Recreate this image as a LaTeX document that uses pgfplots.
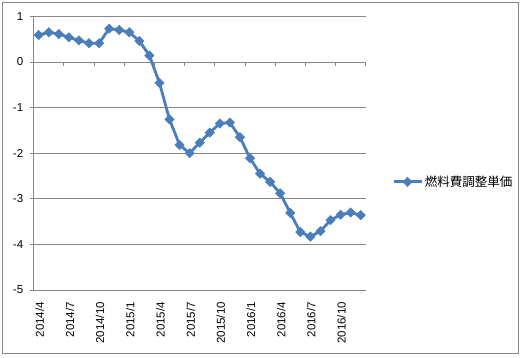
\documentclass[border=0pt]{standalone}
\usepackage{pgfplots}
\pgfplotsset{compat=1.18}
\usepackage{fontspec}
\setmainfont{Liberation Sans}
\newfontfamily\cjk{Noto Sans CJK JP}
\definecolor{ser}{HTML}{4A7EBB}
\definecolor{grd}{HTML}{868686}
\begin{document}
\begin{tikzpicture}
\useasboundingbox (0,0) rectangle (524bp,358bp);
\draw[grd, line width=0.8bp] (2.7bp,4.3bp) rectangle (518.3bp,355.3bp);
\begin{axis}[
  at={(33.7bp,68bp)}, anchor=south west,
  scale only axis, width=332bp, height=273.7bp,
  xmin=-0.5, xmax=32.5, ymin=-5, ymax=1,
  axis lines*=left,
  x axis line style={draw=none},
  y axis line style={grd, line width=0.8bp, -},
  xtick={0,3,...,30},
  xticklabels={{2014/4},{2014/7},{2014/10},{2015/1},{2015/4},{2015/7},{2015/10},{2016/1},{2016/4},{2016/7},{2016/10}},
  xtick style={draw=none},
  xticklabel style={rotate=90, anchor=east, font=\fontsize{11.5bp}{13bp}\selectfont, inner sep=0pt, xshift=-8bp, yshift=-1bp},
  ytick={-5,-4,-3,-2,-1,0,1},
  yticklabels={-5,-4,-3,-2,-1,0,1},
  ymajorgrids, major grid style={grd, line width=0.8bp},
  ytick style={grd, line width=0.8bp},
  major tick length=4bp, tick align=outside,
  yticklabel style={font=\fontsize{11.5bp}{13bp}\selectfont, xshift=-3bp},
  clip=false,
  legend style={at={(1.079,0.395)}, anchor=west, draw=none, fill=none,
    font=\cjk\fontsize{12.5bp}{14bp}\selectfont, inner sep=0pt,
    /tikz/every even column/.append style={column sep=0pt}},
  legend cell align=left,
  legend image code/.code={\draw[mark repeat=2,mark phase=2,#1] plot coordinates {(0bp,0bp) (14bp,0bp) (28bp,0bp)};},
]
\draw[grd, line width=0.8bp] (axis cs:-0.5,0) -- (axis cs:32.5,0);
\pgfplotsinvokeforeach{0,...,11}{
  \draw[grd, line width=0.8bp] (axis cs:{-0.5+3*#1},0) -- ([yshift=-4bp]axis cs:{-0.5+3*#1},0);
}
\addplot[ser, line width=2.8bp, mark=square*, mark size=3.3bp, mark options={rotate=45, solid, fill=ser, line width=0.5bp}] coordinates {
(0,0.59) (1,0.65) (2,0.61) (3,0.54) (4,0.47) (5,0.41) (6,0.41) (7,0.73) (8,0.70) (9,0.65)
(10,0.46) (11,0.14) (12,-0.46) (13,-1.26) (14,-1.82) (15,-2.00) (16,-1.77) (17,-1.55) (18,-1.35) (19,-1.33)
(20,-1.65) (21,-2.11) (22,-2.45) (23,-2.63) (24,-2.88) (25,-3.31) (26,-3.73) (27,-3.83) (28,-3.71) (29,-3.47)
(30,-3.35) (31,-3.30) (32,-3.36)
};
\addlegendentry{燃料費調整単価}
\end{axis}
\end{tikzpicture}
\end{document}
